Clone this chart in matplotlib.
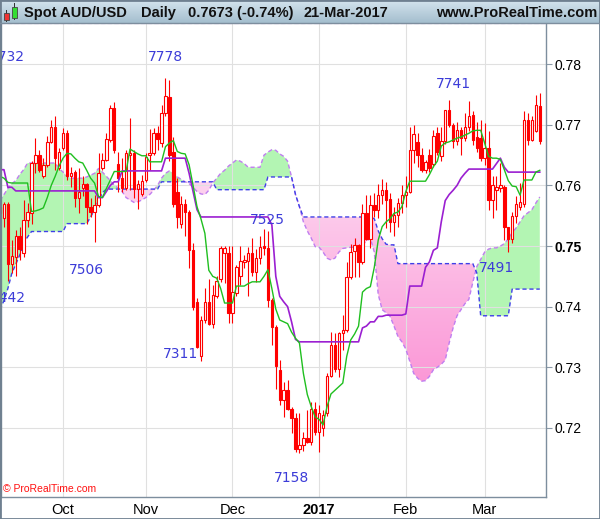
import numpy as np
import matplotlib
matplotlib.use("Agg")
import matplotlib.pyplot as plt
from matplotlib.patches import Rectangle
from matplotlib.path import Path
from matplotlib.colors import LinearSegmentedColormap

plt.rcParams['font.family'] = ['Liberation Sans', 'DejaVu Sans']

# --- daily AUD/USD candles, 9-Sep-2016 .. 21-Mar-2017 (bar index 0..137)
opens = [
    .7555, .7547, .7569, .7470, .7482, .7517, .7488, .7543, .7554, .7637,
    .7650, .7615, .7634, .7672, .7696, .7628, .7661, .7686, .7615, .7623,
    .7579, .7595, .7602, .7565, .7557, .7568, .7628, .7642, .7675, .7727,
    .7635, .7612, .7595, .7651, .7653, .7594, .7586, .7609, .7650, .7654,
    .7686, .7670, .7719, .7746, .7655, .7590, .7537, .7570, .7557, .7494,
    .7408, .7318, .7378, .7408, .7372, .7417, .7445, .7488, .7488, .7390,
    .7422, .7450, .7474, .7475, .7488, .7458, .7480, .7500, .7496, .7411,
    .7367, .7295, .7246, .7262, .7231, .7216, .7165, .7172, .7184, .7176,
    .7231, .7194, .7200, .7224, .7286, .7337, .7297, .7356, .7361, .7449,
    .7492, .7501, .7474, .7554, .7511, .7567, .7559, .7584, .7593, .7578,
    .7540, .7552, .7571, .7585, .7590, .7659, .7672, .7650, .7626, .7650,
    .7635, .7686, .7648, .7673, .7724, .7700, .7673, .7692, .7678, .7697,
    .7716, .7680, .7678, .7645, .7662, .7576, .7593, .7596, .7598, .7532,
    .7511, .7549, .7565, .7570, .7708, .7675, .7690, .7731]
highs = [
    .7575, .7572, .7572, .7510, .7526, .7532, .7576, .7571, .7640, .7678,
    .7659, .7645, .7681, .7708, .7714, .7662, .7694, .7692, .7631, .7626,
    .7628, .7615, .7604, .7579, .7584, .7653, .7653, .7686, .7732, .7737,
    .7656, .7645, .7659, .7711, .7659, .7609, .7617, .7653, .7693, .7694,
    .7698, .7733, .7778, .7774, .7680, .7612, .7582, .7577, .7560, .7505,
    .7414, .7384, .7430, .7446, .7435, .7450, .7500, .7500, .7500, .7500,
    .7469, .7500, .7486, .7499, .7513, .7495, .7516, .7528, .7525, .7414,
    .7370, .7312, .7276, .7279, .7235, .7224, .7224, .7194, .7229, .7243,
    .7243, .7238, .7229, .7290, .7358, .7356, .7358, .7386, .7474, .7504,
    .7513, .7504, .7570, .7584, .7584, .7587, .7603, .7611, .7605, .7588,
    .7565, .7579, .7601, .7615, .7697, .7700, .7686, .7661, .7642, .7660,
    .7692, .7697, .7697, .7725, .7741, .7703, .7705, .7697, .7719, .7740,
    .7722, .7705, .7708, .7703, .7690, .7615, .7615, .7637, .7600, .7532,
    .7557, .7582, .7604, .7722, .7719, .7714, .7749, .7752]
lows = [
    .7540, .7532, .7442, .7455, .7450, .7477, .7482, .7532, .7537, .7620,
    .7623, .7612, .7631, .7670, .7626, .7626, .7659, .7609, .7598, .7565,
    .7554, .7582, .7537, .7548, .7506, .7565, .7626, .7640, .7672, .7653,
    .7590, .7590, .7592, .7592, .7579, .7561, .7582, .7606, .7626, .7650,
    .7659, .7664, .7714, .7640, .7565, .7529, .7529, .7516, .7463, .7395,
    .7331, .7311, .7373, .7370, .7365, .7414, .7440, .7439, .7373, .7373,
    .7417, .7436, .7464, .7417, .7450, .7440, .7470, .7485, .7400, .7337,
    .7265, .7238, .7218, .7229, .7191, .7160, .7158, .7162, .7175, .7172,
    .7188, .7160, .7186, .7220, .7284, .7293, .7284, .7328, .7358, .7446,
    .7449, .7449, .7471, .7510, .7496, .7548, .7546, .7570, .7530, .7524,
    .7516, .7532, .7554, .7565, .7587, .7637, .7631, .7623, .7620, .7622,
    .7630, .7650, .7640, .7668, .7697, .7662, .7667, .7651, .7673, .7689,
    .7667, .7655, .7640, .7634, .7560, .7546, .7560, .7590, .7510, .7491,
    .7505, .7538, .7560, .7565, .7667, .7673, .7688, .7668]
closes = [
    .7565, .7569, .7470, .7484, .7516, .7495, .7543, .7557, .7637, .7650,
    .7626, .7634, .7672, .7696, .7645, .7656, .7686, .7615, .7621, .7579,
    .7590, .7602, .7565, .7557, .7568, .7620, .7642, .7676, .7727, .7659,
    .7612, .7595, .7653, .7654, .7594, .7602, .7608, .7647, .7653, .7686,
    .7676, .7719, .7747, .7650, .7570, .7548, .7570, .7557, .7493, .7400,
    .7334, .7378, .7408, .7372, .7420, .7442, .7497, .7497, .7390, .7424,
    .7466, .7475, .7477, .7488, .7458, .7480, .7499, .7496, .7411, .7367,
    .7302, .7246, .7262, .7232, .7216, .7166, .7172, .7183, .7176, .7231,
    .7194, .7224, .7222, .7286, .7337, .7297, .7356, .7361, .7449, .7491,
    .7502, .7474, .7554, .7511, .7567, .7559, .7584, .7593, .7576, .7540,
    .7552, .7571, .7585, .7590, .7659, .7685, .7650, .7626, .7638, .7628,
    .7681, .7655, .7673, .7724, .7700, .7673, .7692, .7678, .7697, .7714,
    .7675, .7662, .7645, .7662, .7576, .7601, .7598, .7601, .7532, .7511,
    .7549, .7570, .7572, .7708, .7675, .7708, .7733, .7673]

# --- Ichimoku lines
tenkan = [
    .7615, .7612, .7605, .7604, .7604, .7604, .7604, .7604, .7557, .7558,
    .7560, .7563, .7580, .7600, .7615, .7632, .7645, .7653, .7652, .7645,
    .7639, .7637, .7625, .7612, .7604, .7582, .7580, .7595, .7609, .7623,
    .7623, .7623, .7623, .7660, .7656, .7652, .7649, .7649, .7639, .7639,
    .7639, .7639, .7664, .7670, .7674, .7656, .7653, .7652, .7634, .7600,
    .7565, .7545, .7521, .7460, .7450, .7447, .7430, .7406, .7406, .7406,
    .7434, .7434, .7434, .7438, .7441, .7441, .7441, .7450, .7461, .7430,
    .7396, .7378, .7375, .7372, .7358, .7348, .7340, .7290, .7255, .7235,
    .7218, .7214, .7205, .7235, .7256, .7262, .7268, .7274, .7318, .7345,
    .7355, .7368, .7424, .7430, .7433, .7465, .7510, .7532, .7540, .7545,
    .7554, .7556, .7565, .7590, .7607, .7607, .7607, .7607, .7607, .7618,
    .7631, .7640, .7665, .7670, .7672, .7675, .7678, .7680, .7683, .7686,
    .7690, .7691, .7691, .7670, .7648, .7645, .7645, .7643, .7626, .7608,
    .7599, .7598, .7584, .7609, .7609, .7609, .7622, .7625]
kijun = [
    .7626, .7626, .7597, .7597, .7591, .7591, .7591, .7591, .7591, .7591,
    .7591, .7591, .7591, .7591, .7591, .7591, .7591, .7591, .7591, .7591,
    .7591, .7591, .7591, .7591, .7591, .7580, .7580, .7590, .7600, .7606,
    .7606, .7624, .7624, .7624, .7624, .7624, .7624, .7624, .7624, .7624,
    .7624, .7624, .7645, .7645, .7645, .7645, .7645, .7645, .7620, .7590,
    .7560, .7548, .7548, .7548, .7548, .7548, .7548, .7548, .7548, .7548,
    .7548, .7548, .7548, .7548, .7548, .7548, .7548, .7548, .7548, .7535,
    .7450, .7417, .7408, .7400, .7375, .7346, .7342, .7342, .7342, .7342,
    .7342, .7342, .7342, .7342, .7342, .7342, .7342, .7342, .7342, .7342,
    .7342, .7342, .7365, .7368, .7375, .7375, .7384, .7384, .7386, .7386,
    .7386, .7386, .7386, .7388, .7434, .7434, .7434, .7434, .7465, .7474,
    .7493, .7497, .7540, .7575, .7585, .7592, .7600, .7612, .7620, .7627,
    .7627, .7627, .7627, .7627, .7627, .7627, .7636, .7645, .7630, .7622,
    .7622, .7622, .7622, .7622, .7622, .7622, .7622, .7622]
span_a = [
    .7575, .7585, .7595, .7603, .7608, .7618, .7626, .7637, .7637, .7637,
    .7637, .7637, .7637, .7637, .7637, .7628, .7622, .7615, .7612, .7612,
    .7612, .7612, .7614, .7617, .7620, .7628, .7622, .7615, .7608, .7600,
    .7596, .7590, .7580, .7576, .7572, .7573, .7576, .7580, .7585, .7592,
    .7600, .7612, .7620, .7624, .7620, .7614, .7610, .7606, .7603, .7597,
    .7590, .7586, .7585, .7592, .7604, .7612, .7620, .7625, .7632, .7637,
    .7642, .7640, .7636, .7630, .7630, .7630, .7630, .7650, .7655, .7659,
    .7658, .7652, .7648, .7640, .7614, .7585, .7565, .7540, .7525, .7513,
    .7499, .7498, .7490, .7480, .7477, .7480, .7490, .7496, .7497, .7498,
    .7498, .7498, .7502, .7508, .7513, .7490, .7420, .7395, .7390, .7384,
    .7368, .7351, .7342, .7330, .7310, .7290, .7282, .7277, .7278, .7285,
    .7296, .7300, .7305, .7312, .7340, .7365, .7385, .7395, .7405, .7412,
    .7440, .7466, .7478, .7490, .7495, .7497, .7497, .7500, .7504, .7512,
    .7522, .7530, .7540, .7550, .7555, .7560, .7571, .7581]
span_b = [
    .7395, .7410, .7430, .7455, .7470, .7485, .7505, .7515, .7524, .7524,
    .7524, .7524, .7524, .7524, .7524, .7524, .7524, .7537, .7537, .7537,
    .7537, .7537, .7537, .7548, .7560, .7575, .7588, .7594, .7594, .7594,
    .7594, .7594, .7594, .7594, .7594, .7594, .7594, .7594, .7594, .7594,
    .7594, .7606, .7606, .7606, .7606, .7606, .7606, .7606, .7606, .7606,
    .7606, .7606, .7606, .7606, .7606, .7593, .7593, .7593, .7593, .7593,
    .7593, .7593, .7593, .7593, .7593, .7593, .7593, .7593, .7614, .7614,
    .7614, .7614, .7614, .7614, .7614, .7585, .7565, .7548, .7548, .7548,
    .7548, .7548, .7548, .7548, .7548, .7548, .7548, .7548, .7548, .7548,
    .7548, .7548, .7548, .7548, .7548, .7545, .7525, .7512, .7503, .7502,
    .7502, .7471, .7471, .7471, .7471, .7471, .7471, .7471, .7471, .7471,
    .7471, .7471, .7471, .7471, .7471, .7471, .7471, .7471, .7471, .7471,
    .7471, .7456, .7385, .7385, .7385, .7385, .7385, .7385, .7385, .7385,
    .7429, .7429, .7429, .7429, .7429, .7429, .7429, .7429]

# swing high / low markers
label_text = ["7732", "7442", "7506", "7778", "7311", "7525", "7158", "7741", "7491"]
label_bar = [1.8, 2.2, 22.0, 42.1, 45.8, 67.9, 74.1, 115.0, 126.0]
label_price = [.7812, .7414, .7460, .7812, .7322, .7543, .7118, .7768, .7463]

month_idx = [16, 37, 59, 81, 103, 123]
month_labels = ["Oct", "Nov", "Dec", "2017", "Feb", "Mar"]
price_ticks = [0.72, 0.73, 0.74, 0.75, 0.76, 0.77, 0.78]
price_labels = ["0.72", "0.73", "0.74", "0.75", "0.76", "0.77", "0.78"]

# layout in pixels of the 600x519 image
W, H = 600, 519
BAR_PX = 3.94
PLOT_L, PLOT_R, PLOT_T, PLOT_B = 1, 546, 23, 497

fig = plt.figure(figsize=(W / 100, H / 100), dpi=100)
fig.patch.set_facecolor("white")
ax = fig.add_axes([PLOT_L / W, (H - PLOT_B) / H, (PLOT_R - PLOT_L) / W, (PLOT_B - PLOT_T) / H])

idx = np.arange(len(closes))
o, h, l, c = map(np.array, (opens, highs, lows, closes))
a, b = np.array(span_a), np.array(span_b)

# cloud
ax.fill_between(idx, a, b, where=a >= b, interpolate=True,
                facecolor="#b3f5b3", edgecolor="none", zorder=1)
pink = ax.fill_between(idx, a, b, where=a < b, interpolate=True,
                       facecolor="none", edgecolor="none", zorder=1)
pink_path = Path.make_compound_path(*pink.get_paths())
grad = np.linspace(0, 1, 256).reshape(-1, 1)
pink_cmap = LinearSegmentedColormap.from_list("cloud_pink", ["#fb96d6", "#fdd6f0"])
im = ax.imshow(grad, extent=[idx[0], idx[-1], 0.7265, 0.7620], origin="lower",
               cmap=pink_cmap, aspect="auto", zorder=1, interpolation="bilinear")
im.set_clip_path(pink_path, transform=ax.transData)

ax.plot(idx, a, color="#c07ef0", lw=1.0, ls=(0, (3, 2)), zorder=2)
ax.plot(idx, b, color="#3f3fe8", lw=1.0, ls=(0, (3, 2)), zorder=2)

# candles: hollow = up day, filled = down day
up = c >= o
ax.vlines(idx, l, h, color="#ff0000", lw=0.8, zorder=3)
ax.bar(idx[up], (c - o)[up], bottom=o[up], width=0.62,
       facecolor="white", edgecolor="#ff0000", lw=0.8, zorder=3.1)
ax.bar(idx[~up], (o - c)[~up], bottom=c[~up], width=0.62,
       facecolor="#ff0000", edgecolor="#ff0000", lw=0.8, zorder=3.1)

ax.plot(idx, kijun, color="#9b1fd1", lw=1.2, zorder=4)
ax.plot(idx, tenkan, color="#1fbf1f", lw=1.0, zorder=4)

for txt, xb, yp in zip(label_text, label_bar, label_price):
    ax.text(xb, yp, txt, color="#3c3cd8", fontsize=10, family="DejaVu Sans",
            ha="center", va="center", zorder=6, clip_on=True)

ax.set_xlim(PLOT_L / BAR_PX, PLOT_R / BAR_PX)
ax.set_ylim(0.7086, 0.7868)

ax.yaxis.tick_right()
ax.set_yticks(price_ticks)
ax.set_yticklabels(price_labels)
ax.tick_params(axis="y", direction="out", length=4, width=0.8, color="#8c9aa8",
               labelsize=10, pad=2)
for t in ax.get_yticklabels():
    if t.get_text() == "0.75":
        t.set_fontweight("bold")

ax.set_xticks(month_idx)
ax.set_xticklabels(month_labels)
ax.tick_params(axis="x", length=0, labelsize=10.5, pad=4)
for t in ax.get_xticklabels():
    if t.get_text() == "2017":
        t.set_fontweight("bold")

ax.grid(True, color="#e0e0e0", lw=0.8)
ax.set_axisbelow("line")
for side in ("left", "right", "bottom"):
    ax.spines[side].set_color("#7d8e9e")
    ax.spines[side].set_linewidth(1.0)
ax.spines["top"].set_color("#9b40d0")
ax.spines["top"].set_linestyle((0, (3, 3)))

# title bar
tb = fig.add_axes([0, (H - PLOT_T) / H, 1, PLOT_T / H])
bar_cmap = LinearSegmentedColormap.from_list("bar", ["#d4e4ee", "#a4bece"])
tb.imshow(np.linspace(0, 1, 64).reshape(-1, 1), cmap=bar_cmap, aspect="auto",
          extent=[0, 1, 0, 1], origin="upper")
tb.set_axis_off()

ty = 1 - 13 / H
title_parts = [("Spot AUD/USD", 24), ("Daily", 141), ("0.7673 (-0.74%)", 188), ("21-Mar-2017", 304)]
for txt, px in title_parts:
    fig.text(px / W, ty, txt, fontsize=10.5, fontweight="bold", color="#111111", va="center")
fig.text(597 / W, ty, "www.ProRealTime.com", fontsize=10.5, fontweight="bold",
         color="#111111", va="center", ha="right")

# small candle icon in the title bar
def px_rect(x, y, w, hh, **kw):
    fig.patches.append(Rectangle((x / W, 1 - (y + hh) / H), w / W, hh / H,
                                 transform=fig.transFigure, **kw))

px_rect(6, 10, 1, 12, facecolor="#333333", edgecolor="none")
px_rect(4, 13, 5, 7, facecolor="#ee3333", edgecolor="#444444", lw=0.6)
px_rect(14, 3, 1, 17, facecolor="#333333", edgecolor="none")
px_rect(12, 7, 5, 11, facecolor="#33dd33", edgecolor="#444444", lw=0.6)

fig.text(3 / W, 1 - 489 / H, "© ProRealTime.com", color="#ff1010", fontsize=7.5, va="center")

# borders
fig.add_artist(plt.Line2D([0, 1], [1 - PLOT_T / H] * 2, transform=fig.transFigure,
                          color="#7d8e9e", lw=1.0))
fig.patches.append(Rectangle((0, 0), 1, 1, transform=fig.transFigure, fill=False,
                             edgecolor="#6f8090", lw=2.0))

fig.savefig("out.png", dpi=100)
